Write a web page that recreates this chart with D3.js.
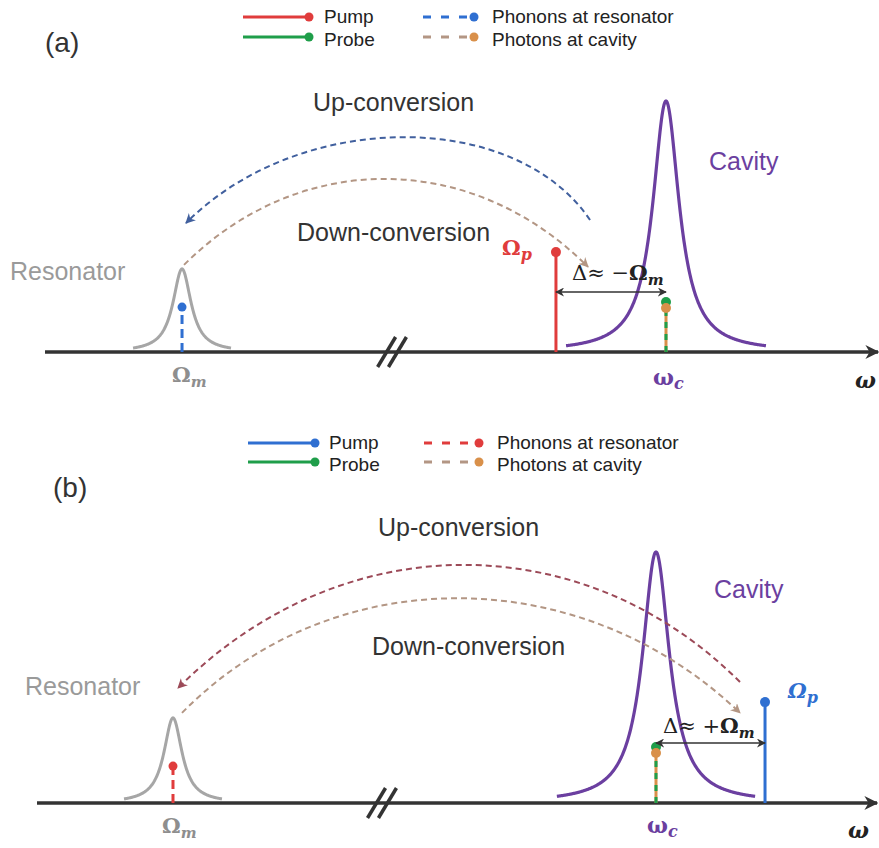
<!DOCTYPE html>
<html><head><meta charset="utf-8">
<script src="https://cdn.jsdelivr.net/npm/d3@7"></script>
<style>body{margin:0;background:#fff}svg{display:block}</style>
</head><body>
<svg id="c" width="879" height="848"></svg>
<script>
// ---------- data (frequency in arbitrary units 0-100, amplitude normalised to cavity peak) ----------
const panelLabels = ["(a)", "(b)"];
const legendNames = ["Pump", "Probe", "Phonons at resonator", "Photons at cavity"];
const resonatorFreq = [16.45, 16.19];
const resonatorPeak = [0.331, 0.339];
const resonatorHWHM = [1.32, 1.31];
const resonatorSpan = [5.88, 5.83];
const cavityFreq = [74.55, 73.69];
const cavityPeak = [1.0, 1.0];
const cavityHWHM = [1.92, 1.95];
const cavitySpan = [12.0, 11.8];
const pumpFreq = [61.34, 86.67];
const pumpAmp = [0.398, 0.402];
const probeAmp = [0.199, 0.223];
const phononAmp = [0.179, 0.147];
const detuningAmp = [0.239, 0.239];
const breakFreq = [41.66, 41.07];
const detuningLabel = ["Δ≈ −", "Δ≈ +"];
// arcs: [f0,a0, f1,a1, f2,a2, f3,a3] cubic control points in (frequency, amplitude)
const upArc = [[65.43,0.526, 56.42,0.968, 30.61,0.968, 16.93,0.514],
               [83.69,0.482, 65.0,1.108, 36.19,1.108, 16.79,0.458]];
const downArc = [[16.69,0.347, 30.49,0.805, 51.14,0.805, 65.19,0.339],
                 [17.26,0.359, 35.12,0.968, 64.64,0.968, 83.69,0.359]];

// ---------- layout & style ----------
const layout = [
  {x0:45, x1:878, base:352, top:101, label:[45,52], up:[313,111], down:[297,241], res:[10,280], cav:[709,170],
   Om:[172,382], wc:[653,385], w:[855,388], Op:[502,255], det:[572,280],
   leg:{rows:[17,37], l1:[243,309], t1:324, l2:[423,474], t2:492}},
  {x0:37, x1:877, base:803, top:552, label:[53,497], up:[378,536], down:[372,655], res:[25,695], cav:[714,598],
   Om:[162,833], wc:[647,833], w:[848,838], Op:[788,698], det:[663,733],
   leg:{rows:[443,462], l1:[248,315], t1:329, l2:[424,479], t2:497}}
];
const C = {
  axis:"#333333", text:"#333333", grey:"#a6a6a6", greyText:"#9a9a9a", purple:"#6b3fa0",
  green:"#1f9e4a", orange:"#d9904a", tan:"#b39684",
  pump:["#e03c3c","#2f6fd1"], phonon:["#2f6fd1","#e03c3c"], up:["#41609e","#9c4a58"]
};
const sans = "'Liberation Sans', Arial, sans-serif";
const serif = "'DejaVu Serif', serif";

const svg = d3.select("#c");
const defs = svg.append("defs");
function marker(id, color, size) {
  defs.append("marker").attr("id", id).attr("viewBox","0 0 10 10").attr("refX",9).attr("refY",5)
    .attr("markerWidth", size).attr("markerHeight", size).attr("markerUnits","userSpaceOnUse")
    .attr("orient","auto-start-reverse")
    .append("path").attr("d","M0,0 L10,5 L0,10 L3,5 z").attr("fill", color);
}
marker("axArrow", C.axis, 14);
marker("dblArrow", C.axis, 9);
C.up.forEach((c,i)=>marker("upA"+i, c, 10));
marker("downA", C.tan, 10);

panelLabels.forEach((lab, i) => {
  const L = layout[i];
  const x = d3.scaleLinear().domain([0,100]).range([L.x0, L.x1]);
  const y = d3.scaleLinear().domain([0,1]).range([L.base, L.top]);
  const g = svg.append("g");

  // panel label
  g.append("text").attr("x", L.label[0]).attr("y", L.label[1]).attr("font-family", sans)
    .attr("font-size", 28).attr("fill", C.text).text(lab);

  // legend
  const lg = L.leg;
  const legColors = [C.pump[i], C.green, C.phonon[i], C.orange];
  legendNames.forEach((name, k) => {
    const r = k % 2;
    const row = lg.rows[r];
    const dashed = k >= 2;
    const lx = dashed ? lg.l2 : lg.l1;
    g.append("line").attr("x1", lx[0]).attr("x2", lx[1]).attr("y1", row).attr("y2", row)
      .attr("stroke", k===3 ? C.tan : legColors[k]).attr("stroke-width", 3)
      .attr("stroke-dasharray", dashed ? "8,10" : null);
    g.append("circle").attr("cx", lx[1]).attr("cy", row).attr("r", 4.5).attr("fill", legColors[k]);
    g.append("text").attr("x", dashed ? lg.t2 : lg.t1).attr("y", row + (r ? 8.5 : 6)).attr("font-family", sans)
      .attr("font-size", 19).attr("fill", "#222").text(name);
  });

  // axis
  g.append("line").attr("x1", x(0)).attr("x2", x(100)).attr("y1", y(0)).attr("y2", y(0))
    .attr("stroke", C.axis).attr("stroke-width", 3.5).attr("marker-end", "url(#axArrow)");
  // axis break
  [-0.65, 0.65].forEach(d => {
    const bx = x(breakFreq[i] + d);
    g.append("line").attr("x1", bx - 9).attr("y1", y(0) + 15).attr("x2", bx + 9).attr("y2", y(0) - 15)
      .attr("stroke", C.axis).attr("stroke-width", 3.5);
  });

  // lorentzian resonances
  const lor = (c, h, w) => f => h / (1 + ((f - c) / w) ** 2);
  const line = d3.line().x(d => x(d[0])).y(d => y(d[1]));
  const resF = lor(resonatorFreq[i], resonatorPeak[i], resonatorHWHM[i]);
  const resPts = d3.range(0, 201).map(k => resonatorFreq[i] - resonatorSpan[i] + k * resonatorSpan[i] / 100)
    .map(f => [f, resF(f)]);
  g.append("path").attr("d", line(resPts)).attr("fill","none").attr("stroke", C.grey).attr("stroke-width", 3);
  const cavF = lor(cavityFreq[i], cavityPeak[i], cavityHWHM[i]);
  const cavPts = d3.range(0, 401).map(k => cavityFreq[i] - cavitySpan[i] + k * cavitySpan[i] / 200)
    .map(f => [f, cavF(f)]);
  g.append("path").attr("d", line(cavPts)).attr("fill","none").attr("stroke", C.purple).attr("stroke-width", 3.2);

  // arcs
  const arcPath = a => `M${x(a[0])},${y(a[1])} C${x(a[2])},${y(a[3])} ${x(a[4])},${y(a[5])} ${x(a[6])},${y(a[7])}`;
  g.append("path").attr("d", arcPath(upArc[i])).attr("fill","none").attr("stroke", C.up[i])
    .attr("stroke-width", 2).attr("stroke-dasharray","6,4").attr("marker-end", `url(#upA${i})`);
  g.append("path").attr("d", arcPath(downArc[i])).attr("fill","none").attr("stroke", C.tan)
    .attr("stroke-width", 2).attr("stroke-dasharray","6,4").attr("marker-end", "url(#downA)");

  // phonon stem at resonator
  g.append("line").attr("x1", x(resonatorFreq[i])).attr("x2", x(resonatorFreq[i]))
    .attr("y1", y(0)).attr("y2", y(phononAmp[i])).attr("stroke", C.phonon[i]).attr("stroke-width", 3)
    .attr("stroke-dasharray", "9,5");
  g.append("circle").attr("cx", x(resonatorFreq[i])).attr("cy", y(phononAmp[i])).attr("r", 4.5).attr("fill", C.phonon[i]);

  // pump stem
  g.append("line").attr("x1", x(pumpFreq[i])).attr("x2", x(pumpFreq[i]))
    .attr("y1", y(0)).attr("y2", y(pumpAmp[i])).attr("stroke", C.pump[i]).attr("stroke-width", 3);
  g.append("circle").attr("cx", x(pumpFreq[i])).attr("cy", y(pumpAmp[i])).attr("r", 5).attr("fill", C.pump[i]);

  // probe / photon stem at cavity
  const pf = x(cavityFreq[i]);
  g.append("line").attr("x1", pf).attr("x2", pf).attr("y1", y(0)).attr("y2", y(probeAmp[i]))
    .attr("stroke", C.orange).attr("stroke-width", 3);
  g.append("line").attr("x1", pf).attr("x2", pf).attr("y1", y(0)).attr("y2", y(probeAmp[i]))
    .attr("stroke", C.green).attr("stroke-width", 3).attr("stroke-dasharray", "6,6");
  g.append("circle").attr("cx", pf).attr("cy", y(probeAmp[i])).attr("r", 5).attr("fill", C.green);
  g.append("circle").attr("cx", pf).attr("cy", y(probeAmp[i]) + 6).attr("r", 5).attr("fill", C.orange);

  // detuning double arrow
  g.append("line").attr("x1", x(pumpFreq[i])).attr("x2", x(cavityFreq[i]))
    .attr("y1", y(detuningAmp[i])).attr("y2", y(detuningAmp[i]))
    .attr("stroke", C.axis).attr("stroke-width", 1.6)
    .attr("marker-start", "url(#dblArrow)").attr("marker-end", "url(#dblArrow)");

  // texts
  const T = (pos, size, fill, fam) => g.append("text").attr("x", pos[0]).attr("y", pos[1])
    .attr("font-size", size).attr("fill", fill).attr("font-family", fam);
  T(L.up, 25, C.text, sans).text("Up-conversion");
  T(L.down, 25, C.text, sans).text("Down-conversion");
  T(L.res, 25, C.greyText, sans).text("Resonator");
  T(L.cav, 25, C.purple, sans).text("Cavity");

  const om = T(L.Om, 21, "#8e8e8e", serif).attr("font-weight", "bold");
  om.append("tspan").text("Ω");
  om.append("tspan").attr("font-size", 15).attr("font-style","italic").attr("dy", 5).text("m");

  const wc = T(L.wc, 22, C.purple, serif).attr("font-weight", "bold");
  wc.append("tspan").text("ω");
  wc.append("tspan").attr("font-size", 16).attr("font-style","italic").attr("dy", 4).text("c");

  T(L.w, 22, "#222", serif).attr("font-weight","bold").attr("font-style","italic").text("ω");

  const op = T(L.Op, 21, C.pump[i], serif).attr("font-weight", "bold");
  op.append("tspan").attr("font-style", i===1 ? "italic" : null).text("Ω");
  op.append("tspan").attr("font-size", 16).attr("font-style","italic").attr("dy", 5).text("p");

  const dt = T(L.det, 21, "#222", serif);
  dt.append("tspan").text(detuningLabel[i]);
  dt.append("tspan").attr("font-weight","bold").text("Ω");
  dt.append("tspan").attr("font-weight","bold").attr("font-style","italic").attr("font-size", 15).attr("dy", 5).text("m");
});
</script>
</body></html>
